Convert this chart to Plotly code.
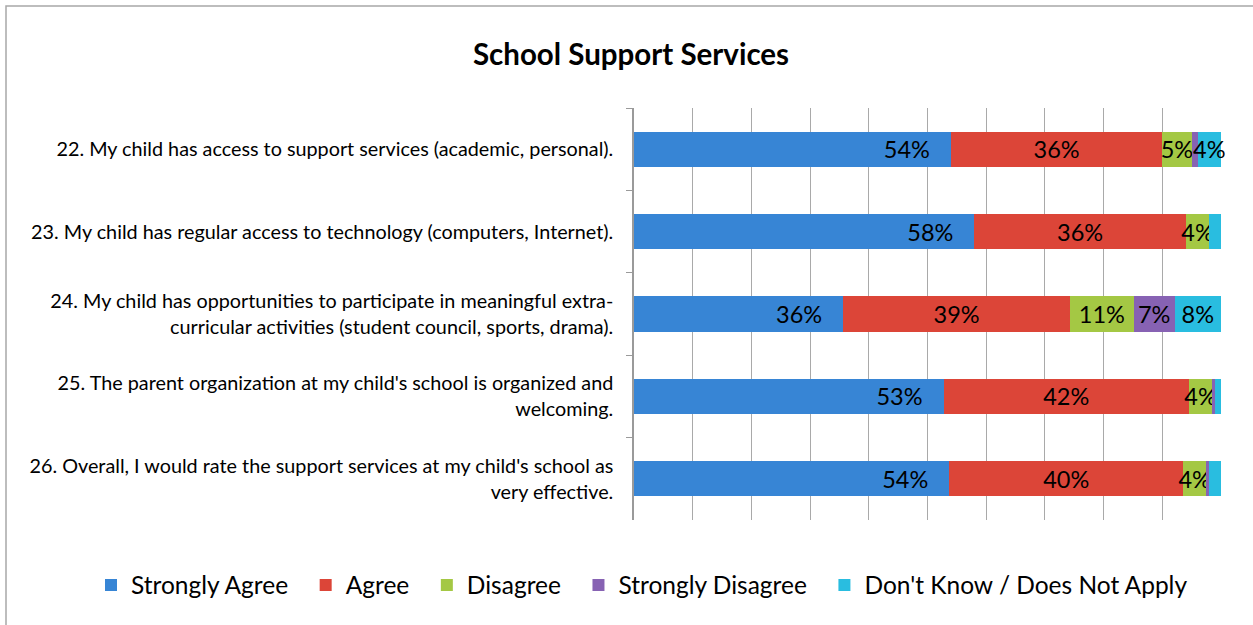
import plotly.graph_objects as go

# Survey items (top to bottom)
questions = [
    "22. My child has access to support services (academic, personal).",
    "23. My child has regular access to technology (computers, Internet).",
    "24. My child has opportunities to participate in meaningful extra-<br>curricular activities (student council, sports, drama).",
    "25. The parent organization at my child's school is organized and<br>welcoming.",
    "26. Overall, I would rate the support services at my child's school as<br>very effective.",
]

# Response shares (%) per item
strongly_agree = [54, 58, 36, 53, 54]
agree = [36, 36, 39, 42, 40]
disagree = [5, 4, 11, 4, 4]
strongly_disagree = [1, 0, 7, 0.5, 0.5]
dont_know = [4, 2, 8, 1, 2]

series = [
    ("Strongly Agree", strongly_agree, "#3785d5", "end"),
    ("Agree", agree, "#dc4538", "middle"),
    ("Disagree", disagree, "#a4c844", "middle"),
    ("Strongly Disagree", strongly_disagree, "#8762b3", "middle"),
    ("Don't Know / Does Not Apply", dont_know, "#29bde0", "middle"),
]

FONT = "Lato, 'Open Sans', sans-serif"

fig = go.Figure()
for name, vals, color, anchor in series:
    pad = "   " if anchor == "end" else ""
    labels = [f"{v:.0f}%{pad}" if v >= 4 else "" for v in vals]
    fig.add_trace(go.Bar(
        name=name + "  ",
        y=questions,
        x=vals,
        orientation="h",
        marker=dict(color=color, line=dict(width=0)),
        text=labels,
        textposition="inside",
        insidetextanchor=anchor,
        textangle=0,
        constraintext="none",
        cliponaxis=False,
        textfont=dict(family=FONT, size=23.5, color="#000000"),
        hovertemplate="%{x}%<extra>" + name + "</extra>",
    ))

W, H = 1253, 625
L, R, T, B = 634, 1221, 108, 520
pw, ph = R - L, B - T

def px_x(x):
    return (x - L) / pw

def px_y(y):
    return (B - y) / ph

fig.update_layout(
    width=W,
    height=H,
    barmode="stack",
    barnorm="percent",
    bargap=0.575,
    margin=dict(l=L, r=W - R, t=T, b=H - B, autoexpand=False),
    paper_bgcolor="#ffffff",
    plot_bgcolor="#ffffff",
    font=dict(family=FONT, color="#000000"),
    title=dict(
        text="<b>School Support Services</b>",
        font=dict(family=FONT, size=29.5, color="#000000"),
        x=631 / W, xref="container", xanchor="center",
        y=1 - 55 / H, yref="container", yanchor="middle",
    ),
    xaxis=dict(
        range=[0, 100],
        dtick=10,
        showgrid=True,
        gridcolor="#a9a9a9",
        gridwidth=1,
        showticklabels=False,
        zeroline=False,
        showline=False,
        fixedrange=True,
    ),
    yaxis=dict(
        autorange="reversed",
        showline=True,
        linecolor="#9a9a9a",
        linewidth=1.5,
        ticks="outside",
        tickson="boundaries",
        ticklen=6,
        tickcolor="#9a9a9a",
        ticklabelstandoff=15,
        tickfont=dict(family=FONT, size=19.8, color="#000000"),
        showgrid=False,
        fixedrange=True,
    ),
    legend=dict(
        orientation="h",
        x=px_x(91), xanchor="left",
        y=px_y(585), yanchor="middle",
        font=dict(family=FONT, size=24.5, color="#000000"),
        traceorder="normal",
        bgcolor="rgba(0,0,0,0)",
    ),
    shapes=[
        dict(
            type="rect", xref="paper", yref="paper",
            x0=px_x(6), x1=px_x(1270), y0=px_y(640), y1=px_y(6),
            line=dict(color="#a8a8a8", width=1.5),
            fillcolor="rgba(0,0,0,0)",
            layer="below",
        )
    ],
)

fig.write_html("out.html")
